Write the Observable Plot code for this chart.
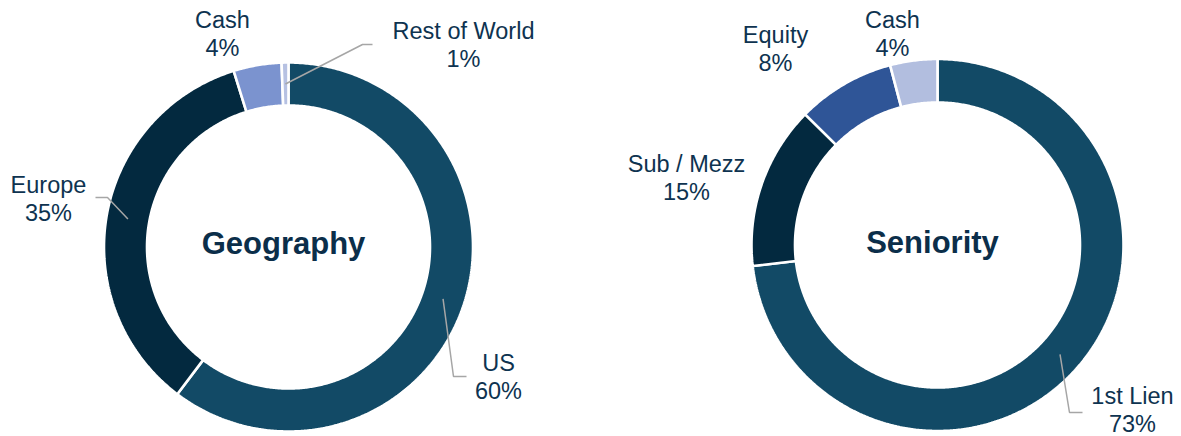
<!DOCTYPE html>
<html><head><meta charset="utf-8">
<script src="https://cdn.jsdelivr.net/npm/d3@7"></script>
<script src="https://cdn.jsdelivr.net/npm/@observablehq/plot@0.6"></script>
<style>html,body{margin:0;padding:0;background:#fff;} svg{display:block}</style>
</head><body><div id="chart"></div>
<script>
// ---- data ----
const geoCategories = ["US", "Europe", "Cash", "Rest of World"];
const geoValues = [60.3, 34.9, 4.2, 0.6];
const geoLabels = ["60%", "35%", "4%", "1%"];
const senCategories = ["1st Lien", "Sub / Mezz", "Equity", "Cash"];
const senValues = [73.2, 14.2, 8.5, 4.1];
const senLabels = ["73%", "15%", "8%", "4%"];
const titles = ["Geography", "Seniority"];

// ---- styles & layout ----
const geoColors = ["#124A66", "#03293F", "#7B93CF", "#B6C1E2"];
const senColors = ["#124A66", "#03293F", "#2F5597", "#B2BEDF"];
const textColor = "#0E3350";
const W = 1181, H = 436;
const donuts = [
  {cats: geoCategories, vals: geoValues, labs: geoLabels, colors: geoColors, title: titles[0],
   cx: 288, cy: 246.5, r0: 141.5, r1: 184.5, tx: 283, ty: 253,
   labelPos: [[498, 398], [48, 220], [222, 55], [463, 66]],
   leaders: [[[453, 376], [466, 376]], [[107, 197], [95, 197]], null, [[362, 44], [372, 44]]]},
  {cats: senCategories, vals: senValues, labs: senLabels, colors: senColors, title: titles[1],
   cx: 937, cy: 244.5, r0: 142.5, r1: 186, tx: 932, ty: 252,
   labelPos: [[1132, 431], [686, 199], [775, 70], [892, 55]],
   leaders: [[[1069, 412], [1082, 412]], null, null, null]}
];

const marks = [];
const labelRows = [], titleRows = [], leaderRows = [];
donuts.forEach((d, di) => {
  const arcs = d3.pie().sort(null).startAngle(0).endAngle(2 * Math.PI)(d.vals);
  arcs.forEach((a, i) => {
    const pts = [];
    const n = Math.max(2, Math.ceil((a.endAngle - a.startAngle) / (Math.PI / 360)));
    for (let k = 0; k <= n; k++) {
      const t = a.startAngle + (a.endAngle - a.startAngle) * k / n;
      pts.push({x: d.cx + d.r1 * Math.sin(t), y: d.cy - d.r1 * Math.cos(t)});
    }
    for (let k = n; k >= 0; k--) {
      const t = a.startAngle + (a.endAngle - a.startAngle) * k / n;
      pts.push({x: d.cx + d.r0 * Math.sin(t), y: d.cy - d.r0 * Math.cos(t)});
    }
    marks.push(Plot.line(pts, {x: "x", y: "y", curve: "linear-closed", fill: d.colors[i],
      stroke: "white", strokeWidth: 2.6, strokeLinejoin: "miter"}));
    const [lx, ly] = d.labelPos[i];
    labelRows.push({x: lx, y: ly, text: d.cats[i] + "\n" + d.labs[i]});
    if (d.leaders[i]) {
      const mid = (a.startAngle + a.endAngle) / 2, rm = (d.r0 + d.r1) / 2;
      const key = di + "-" + i;
      leaderRows.push({k: key, x: d.cx + rm * Math.sin(mid), y: d.cy - rm * Math.cos(mid)});
      d.leaders[i].forEach(([x, y]) => leaderRows.push({k: key, x, y}));
    }
  });
  titleRows.push({x: d.tx, y: d.ty, text: d.title});
});

marks.push(Plot.line(leaderRows, {x: "x", y: "y", z: "k", stroke: "#A6A6A6", strokeWidth: 1.5,
  strokeLinejoin: "miter", strokeLinecap: "butt"}));
marks.push(Plot.text(labelRows, {x: "x", y: "y", text: "text", lineAnchor: "bottom", lineHeight: 1.19,
  fontSize: 23.5, fill: textColor, textAnchor: "middle"}));
marks.push(Plot.text(titleRows, {x: "x", y: "y", text: "text", lineAnchor: "bottom",
  fontSize: 31, fontWeight: "bold", fill: "#0B2E4A", textAnchor: "middle"}));

const chart = Plot.plot({
  width: W, height: H, margin: 0,
  style: {fontFamily: "'Liberation Sans', Arial, sans-serif", background: "white"},
  x: {domain: [0, W], range: [0, W], axis: null},
  y: {domain: [0, H], range: [0, H], axis: null},
  marks
});
document.getElementById("chart").appendChild(chart);
</script>
</body></html>
